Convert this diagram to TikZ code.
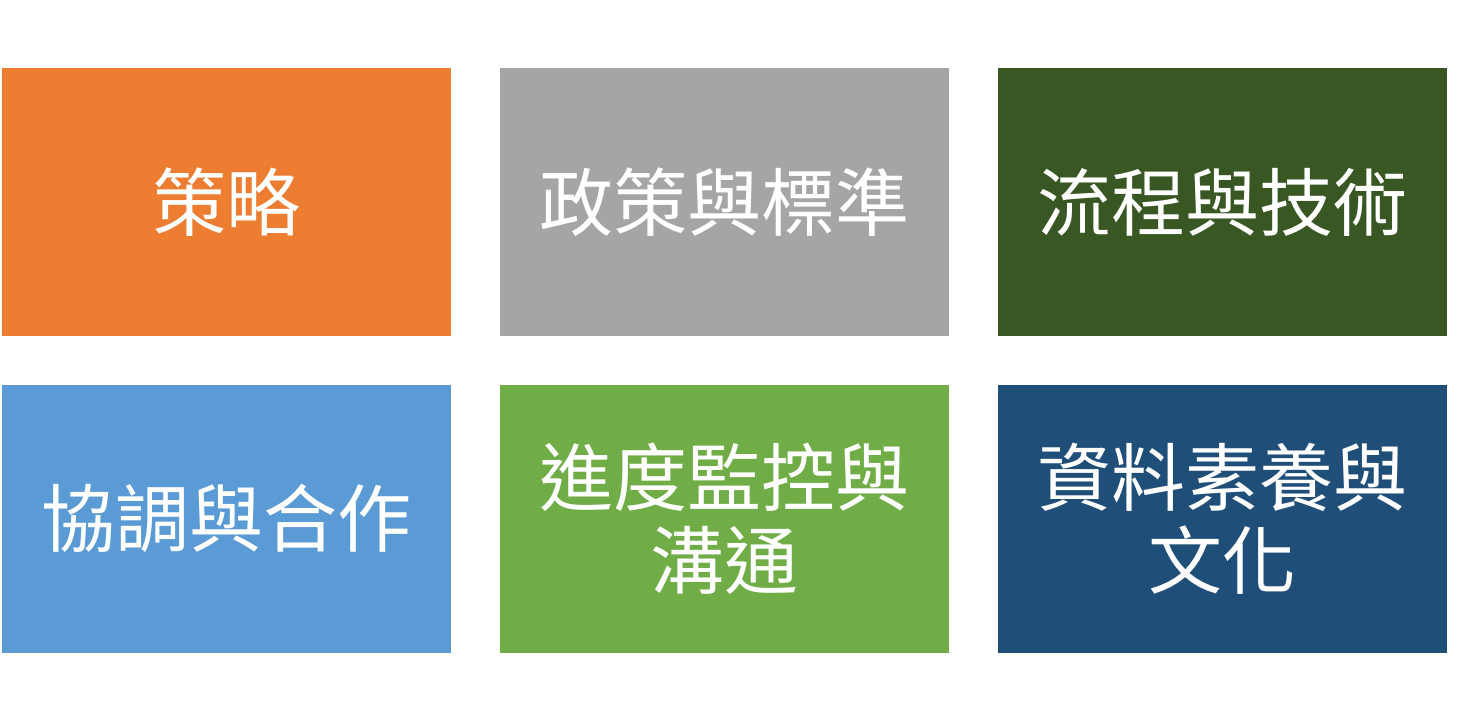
\documentclass[tikz,border=0pt]{standalone}
\usepackage{fontspec}
\newfontfamily\cjk{Noto Sans CJK TC}
\usetikzlibrary{positioning}
\definecolor{strategyorange}{HTML}{ED7D31}
\definecolor{policygray}{HTML}{A5A5A5}
\definecolor{processgreen}{HTML}{385723}
\definecolor{coopblue}{HTML}{5B9BD5}
\definecolor{monitorgreen}{HTML}{70AD47}
\definecolor{literacyblue}{HTML}{1F4E79}

\begin{document}
\begin{tikzpicture}[
            x=1pt, y=1pt,
            node distance=24pt,
            tile/.style={rectangle, draw=none, text=white,
                        minimum width=224.5pt, minimum height=134pt,
                        inner sep=0pt, align=center,
                        font=\cjk\fontsize{37pt}{41.5pt}\selectfont}
        ]
            \useasboundingbox (0,0) rectangle (738,360);

            \node[tile, fill=strategyorange] (strategy) at (113.25,259) {策略};
            \node[tile, fill=policygray, right=of strategy] (policy) {政策與標準};
            \node[tile, fill=processgreen, right=of policy] (process) {流程與技術};

            \node[tile, fill=coopblue, below=of strategy] (coop) {協調與合作};
            \node[tile, fill=monitorgreen, below=of policy] (monitor) {進度監控與\\溝通};
            \node[tile, fill=literacyblue, below=of process] (literacy) {資料素養與\\文化};
        \end{tikzpicture}
\end{document}
